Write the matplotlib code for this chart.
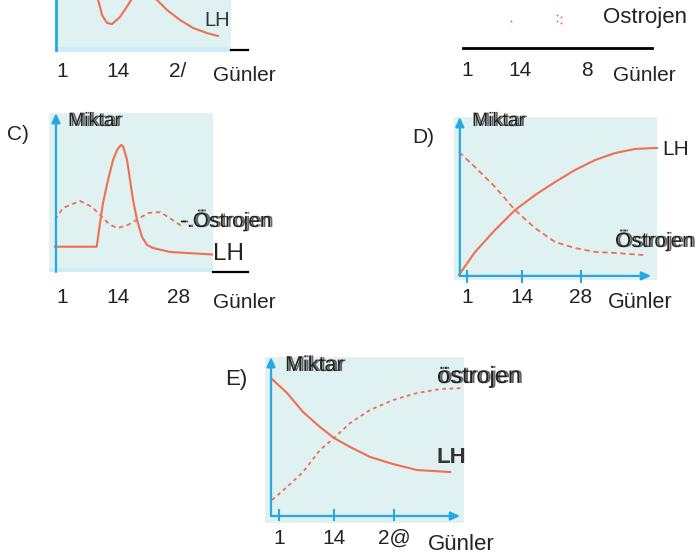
import matplotlib.pyplot as plt
from matplotlib.patches import Rectangle
from matplotlib import transforms
import matplotlib.patheffects as pe

plt.rcParams['font.family'] = ['Liberation Sans', 'DejaVu Sans']

W, H = 696, 559
BG = '#dff1f1'
STRIP = '#cdeef7'
LINE = '#ef7050'
BLUE = '#27a8e0'
INK = '#222222'

# ---- veriler (gün, miktar %) ----
tick_days = [1, 14, 28]

# üst sol (kesik panel)
a_ticklabels = ['1', '14', '2/']
a_left_day = [9.37, 9.6, 10.3, 11.47, 12.63, 14.49, 16.35, 17.05]
a_left_amt = [100, 94.2, 71.2, 55.8, 53.8, 67.3, 90.4, 100]
a_lh_day = [23.09, 25.42, 28.44, 31.47, 34.72, 37.28]
a_lh_amt = [100, 80.8, 61.5, 46.2, 36.5, 30.8]

# üst sağ (kesik panel)
b_tick_days = [1, 14, 30.4]
b_ticklabels = ['1', '14', '8']
b_ost_day = [11.78, 23.06, 23.06, 24.04, 24.04]
b_ost_amt = [56.3, 68.8, 56.3, 64.6, 52.1]

# C
c_ticklabels = ['1', '14', '28']
c_lh_day = [-0.63, 9.07, 9.84, 10.53, 11.7, 12.86, 13.79, 14.72, 15.19,
            16.12, 16.81, 17.51, 18.44, 19.6, 20.77, 22.16, 26.12, 34.72, 35.88]
c_lh_amt = [15.9, 15.9, 30.8, 43.4, 57.9, 70.4, 76.7, 79.9, 79.2,
            70.4, 57.9, 45.3, 32.7, 22.0, 17.0, 15.1, 12.6, 11.2, 11.0]
c_ost_day = [-0.63, 1.23, 5.19, 7.98, 10.3, 12.16, 14.02, 16.35, 18.67,
             21.0, 23.79, 25.65, 27.74, 29.14]
c_ost_amt = [32.7, 40.3, 44.7, 40.9, 34.6, 29.6, 27.7, 29.6, 33.3,
             37.1, 37.7, 34.6, 30.8, 28.3]

# D
d_ticklabels = ['1', '14', '28']
d_lh_day = [-0.9, 2.9, 7.64, 12.37, 17.11, 21.85, 26.59, 31.33, 36.07,
            40.81, 45.55, 46.0]
d_lh_amt = [3.1, 17.2, 30.7, 42.9, 52.1, 60.1, 67.5, 73.6, 77.9,
            80.4, 81.0, 81.0]
d_ost_day = [-0.9, 2.9, 7.64, 12.37, 17.11, 21.85, 26.59, 31.33, 36.07, 42.71]
d_ost_amt = [78.5, 69.3, 57.1, 42.9, 31.9, 23.3, 19.6, 17.2, 16.6, 15.3]

# E
e_ticklabels = ['1', '14', '2@']
e_lh_day = [-0.64, 2.88, 6.63, 10.62, 13.91, 17.67, 22.36, 27.76, 33.39, 41.14]
e_lh_amt = [86.7, 78.3, 66.9, 57.8, 51.2, 45.8, 39.8, 35.5, 31.9, 30.7]
e_ost_day = [-0.64, 2.88, 6.63, 10.62, 13.91, 17.67, 22.36, 27.76, 33.39,
             38.79, 44.19]
e_ost_amt = [13.9, 21.7, 30.7, 44.0, 51.2, 60.2, 68.1, 74.1, 78.3, 80.7, 81.3]

fig = plt.figure(figsize=(W / 100, H / 100), dpi=100)

# bulanık baskı etkisi (çift görünen yazılar)
double = [pe.withSimplePatchShadow(offset=(1.6, 0), shadow_rgbFace='#555555', alpha=0.9)]


def panel(x0, y0, x1, y1, xlim, bg=BG):
    ax = fig.add_axes([x0 / W, 1 - y1 / H, (x1 - x0) / W, (y1 - y0) / H])
    ax.set_xlim(*xlim)
    ax.set_ylim(0, 100)
    ax.set_facecolor(bg if bg else 'none')
    for s in ax.spines.values():
        s.set_visible(False)
    ax.set_xticks([])
    ax.set_yticks([])
    return ax


def ftext(x, y, s, size=15, **kw):
    kw.setdefault('color', INK)
    fig.text(x / W, 1 - y / H, s, fontsize=size, va='baseline', **kw)


def ticklabels(ax, days, labels, y, size=15):
    tr = transforms.blended_transform_factory(ax.transData, fig.transFigure)
    for d, l in zip(days, labels):
        ax.text(d, 1 - y / H, l, transform=tr, ha='center', va='baseline',
                fontsize=size, color=INK, clip_on=False)


def arrow(ax, p0, p1):
    ax.annotate('', xy=p1, xytext=p0,
                arrowprops=dict(arrowstyle='-|>,head_length=0.55,head_width=0.25',
                                color=BLUE, lw=1.6, shrinkA=0, shrinkB=0),
                annotation_clip=False)


def fline(x0, x1, y, lw=1.6):
    fig.add_artist(plt.Line2D([x0 / W, x1 / W], [1 - y / H, 1 - y / H],
                              color='black', lw=lw))


# ---- üst sol ----
ax = panel(55, 0, 231, 52, (-0.63, 40.3))
ax.add_patch(Rectangle((0, 0), 1, 5 / 52, transform=ax.transAxes, color=STRIP, lw=0))
ax.plot([-0.4, -0.4], [0, 100], color=BLUE, lw=2)
ax.plot(a_left_day, a_left_amt, color=LINE, lw=1.5)
ax.plot(a_lh_day, a_lh_amt, color=LINE, lw=1.5)
ticklabels(ax, tick_days, a_ticklabels, 77)
ftext(204, 26, 'LH', size=14.5, color='#333333')
fline(231, 248, 50)
ftext(213, 81, 'Günler')

# ---- üst sağ ----
ax = panel(463, 0, 652, 48, (0.02, 46.3), bg=None)
ax.scatter(b_ost_day, b_ost_amt, s=2, color=LINE, lw=0)
ticklabels(ax, b_tick_days, b_ticklabels, 76)
fline(463, 652, 48, lw=2)
ftext(603, 23, 'Ostrojen', size=16)
ftext(613, 81, 'Günler')

# ---- C ----
ax = panel(49, 113, 213, 272, (-2.02, 36.1))
ax.add_patch(Rectangle((0, 0), 1, 4 / 159, transform=ax.transAxes, color=STRIP, lw=0))
arrow(ax, (-0.4, 0), (-0.4, 100))
ax.plot(c_lh_day, c_lh_amt, color=LINE, lw=1.5)
ax.plot(c_ost_day, c_ost_amt, color=LINE, lw=1.3, ls=(0, (2.5, 2)))
ticklabels(ax, tick_days, c_ticklabels, 303)
ftext(7, 140, 'C)', size=15)
ftext(68, 126, 'Miktar', size=14, path_effects=double)
ftext(180, 227, '-.Östrojen', size=15, path_effects=double)
ftext(213, 260, 'LH', size=17.5)
fline(213, 248, 272)
ftext(213, 308, 'Günler')

# ---- D ----
ax = panel(454, 117, 657, 280, (-2.08, 46.0))
arrow(ax, (-0.7, 2.5), (-0.7, 100))
arrow(ax, (-0.7, 2.5), (44.6, 2.5))
for d in tick_days:
    ax.plot([d, d], [-1.2, 5.5], color=BLUE, lw=1.5, clip_on=False)
ax.plot(d_lh_day, d_lh_amt, color=LINE, lw=1.5, clip_on=False)
ax.plot(d_ost_day, d_ost_amt, color=LINE, lw=1.3, ls=(0, (3, 2)))
ticklabels(ax, tick_days, d_ticklabels, 303)
ftext(412, 143, 'D)', size=15)
ftext(472, 126, 'Miktar', size=14, path_effects=double)
ftext(662, 155, 'LH', size=15)
ftext(615, 247, 'Östrojen', size=15, path_effects=double)
ftext(608, 308, 'Günler', size=15.5)

# ---- E ----
ax = panel(265, 357, 464, 523, (-2.29, 44.4))
arrow(ax, (-0.88, 4.2), (-0.88, 100))
arrow(ax, (-0.88, 4.2), (43.5, 4.2))
for d in tick_days:
    ax.plot([d, d], [1.8, 7.8], color=BLUE, lw=1.5, clip_on=False)
ax.plot(e_lh_day, e_lh_amt, color=LINE, lw=1.5)
ax.plot(e_ost_day, e_ost_amt, color=LINE, lw=1.3, ls=(0, (2, 2)))
ticklabels(ax, tick_days, e_ticklabels, 544)
ftext(225, 385, 'E)', size=16)
ftext(285, 371, 'Miktar', size=15.5, path_effects=double)
ftext(437, 383, 'östrojen', size=17, path_effects=double)
ftext(437, 463, 'LH', size=16, fontweight='bold', color='#333333')
ftext(428, 550, 'Günler', size=16)

fig.savefig('out.png', dpi=100)
